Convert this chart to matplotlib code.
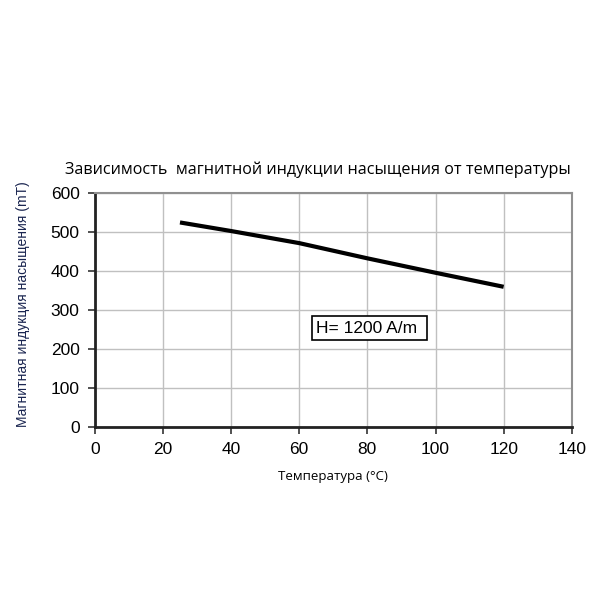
import matplotlib
matplotlib.use('Agg')
import matplotlib.pyplot as plt

# temperature (C) vs saturation induction (mT)
temp = [25, 40, 60, 80, 100, 120]
induction = [525, 503, 472, 433, 396, 360]

x_ticks = [0, 20, 40, 60, 80, 100, 120, 140]
y_ticks = [0, 100, 200, 300, 400, 500, 600]

fig = plt.figure(figsize=(6, 6), dpi=100)
ax = fig.add_axes([0.158, 0.288, 0.795, 0.39])

ax.plot(temp, induction, color='black', linewidth=3, solid_capstyle='butt')

ax.set_xlim(0, 140)
ax.set_ylim(0, 600)
ax.set_xticks(x_ticks)
ax.set_yticks(y_ticks)
ax.grid(True, color='#c0c0c0', linewidth=1)
ax.set_axisbelow(True)

for lbl in ax.get_xticklabels() + ax.get_yticklabels():
    lbl.set_fontfamily('Liberation Sans')
    lbl.set_fontsize(12.5)
ax.tick_params(axis='both', length=5, width=1.2, color='#333333', pad=6)

ax.spines['left'].set_linewidth(2)
ax.spines['bottom'].set_linewidth(2)
ax.spines['left'].set_color('#222222')
ax.spines['bottom'].set_color('#222222')
ax.spines['top'].set_color('#909090')
ax.spines['right'].set_color('#909090')
ax.spines['top'].set_linewidth(1.5)
ax.spines['right'].set_linewidth(1.5)

fig.text(0.53, 0.71, 'Зависимость  магнитной индукции насыщения от температуры',
         fontfamily='Open Sans', fontsize=11.6, ha='center', va='baseline')
ax.set_xlabel('Температура (°C)', fontfamily='Open Sans', fontsize=9.5)
ax.xaxis.set_label_coords(0.5, -0.185)
ax.set_ylabel('Магнитная индукция насыщения (mT)', fontfamily='Liberation Sans',
              fontsize=10, color='#1a2550')
ax.yaxis.set_label_coords(-0.135, 0.525)

ax.text(65, 254, 'H= 1200 A/m ', fontfamily='Liberation Sans', fontsize=12.5,
        va='center', ha='left',
        bbox=dict(boxstyle='square,pad=0.25', facecolor='white', edgecolor='black', linewidth=1.2))

fig.savefig('out.png', dpi=100, facecolor='white')
